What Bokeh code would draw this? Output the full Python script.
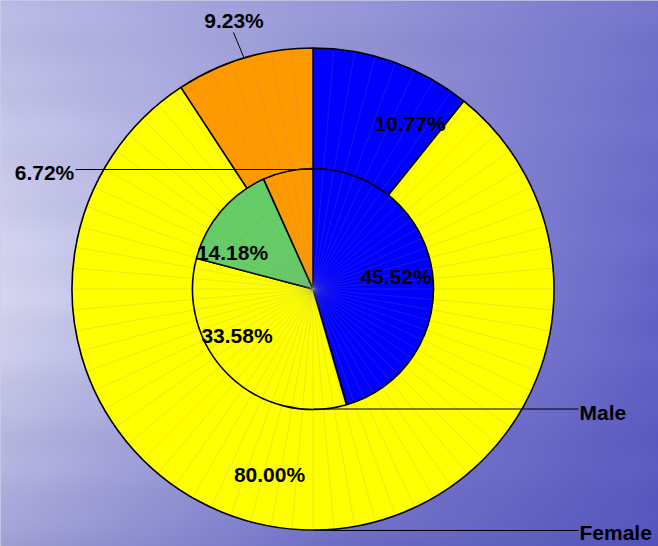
import numpy as np
from bokeh.plotting import figure
from bokeh.models import Range1d, ColumnDataSource
from bokeh.core.properties import value
from bokeh.embed import file_html
from bokeh.resources import INLINE

# ---------------- data ----------------
outer_values = [10.77, 80.00, 9.23]
outer_colors = ["#0000FF", "#FFFF00", "#FF9900"]
inner_values = [45.52, 33.58, 14.18, 6.72]
inner_colors = ["#0000FF", "#FFFF00", "#66CC66", "#FF9900"]
series_names = ["Male", "Female"]          # Male -> inner pie, Female -> outer ring

# ---------------- layout (reference pixel positions) ----------------
CX, CY = 312.5, 288.5       # pie centre in page pixels
R_OUT, R_IN = 241, 120.5
W, H = 658, 546             # figure size

def px(X, Y):
    return X - CX, CY - Y

outer_label_pos = [(409.5, 122.5), (269, 473.5), (233.5, 20)]
inner_label_pos = [(395.5, 276), (236.5, 335), (232, 252), (44, 172)]

p = figure(width=W, height=H, output_backend="svg", toolbar_location=None,
           x_range=Range1d(-CX, W - CX), y_range=Range1d(CY - H, CY),
           min_border=0)
p.axis.visible = False
p.grid.visible = False
p.outline_line_color = None
p.background_fill_color = "#9c9cd8"
p.border_fill_color = "#9c9cd8"

# ---------------- background (sky gradient) ----------------
X = np.arange(W) + 0.5
Y = np.arange(H) + 0.5
u = X / 658.0
v = Y / 546.0
cols_u = [0.0, 0.5, 1.0]
rows_v = [0.0, 0.55, 1.0]
grid = np.array([
    [[184, 184, 228], [150, 150, 214], [116, 116, 204]],
    [[214, 214, 240], [156, 156, 218], [100, 100, 200]],
    [[162, 162, 214], [112, 112, 200], [84, 84, 188]],
], dtype=float)
rowsamp = np.zeros((3, W, 3))
for r in range(3):
    for c in range(3):
        rowsamp[r, :, c] = np.interp(u, cols_u, grid[r, :, c])
rgb = np.zeros((H, W, 3))
for c in range(3):
    for i in range(W):
        rgb[:, i, c] = np.interp(v, rows_v, rowsamp[:, i, c])
streak = (2.0 * np.sin(Y / 9.0) + 1.5 * np.sin(Y / 19.0 + 1.3))[:, None] * \
         (0.6 + 0.4 * np.sin(X / 53.0 + 0.7))[None, :]
rgb += streak[:, :, None]
rgb = np.clip(rgb, 0, 255).astype(np.uint8)
img = np.empty((H, W), dtype=np.uint32)
view = img.view(dtype=np.uint8).reshape((H, W, 4))
view[..., 0] = rgb[..., 0]
view[..., 1] = rgb[..., 1]
view[..., 2] = rgb[..., 2]
view[..., 3] = 255
img = np.flipud(img)
p.image_rgba(image=[img], x=-CX, y=CY - H, dw=W, dh=H)

# ---------------- pie helpers ----------------
def angles(vals):
    frac = np.array(vals) / np.sum(vals)
    cum = np.concatenate([[0], np.cumsum(frac)])
    start = np.pi / 2 - 2 * np.pi * cum[:-1]
    end = np.pi / 2 - 2 * np.pi * cum[1:]
    return start, end

def seams(r0, r1, step_deg=5):
    a = np.deg2rad(np.arange(0, 360, step_deg))
    return dict(x0=r0 * np.cos(a), y0=r0 * np.sin(a), x1=r1 * np.cos(a), y1=r1 * np.sin(a))

# outer ring
os_, oe_ = angles(outer_values)
p.wedge(x=0, y=0, radius=R_OUT, start_angle=os_, end_angle=oe_, direction="clock",
        fill_color=outer_colors, line_color="black", line_width=1.6)
p.segment(source=ColumnDataSource(seams(R_IN, R_OUT - 1.5)), x0="x0", y0="y0", x1="x1", y1="y1",
          line_color="#888888", line_alpha=0.3, line_width=0.6)

# inner pie
is_, ie_ = angles(inner_values)
p.wedge(x=0, y=0, radius=R_IN, start_angle=is_, end_angle=ie_, direction="clock",
        fill_color=inner_colors, line_color="black", line_width=1.6)
p.segment(source=ColumnDataSource(seams(0, R_IN - 1.5)), x0="x0", y0="y0", x1="x1", y1="y1",
          line_color="#888888", line_alpha=0.3, line_width=0.6)

# ---------------- leader lines ----------------
leaders = [((233, 32), (243.6, 57.6)),     # 9.23%
           ((75, 169), (313, 169)),        # 6.72%
           ((313, 408.5), (578, 408.5)),   # Male
           ((313, 530), (578, 530))]       # Female
lx0, ly0, lx1, ly1 = [], [], [], []
for (a, b) in leaders:
    x0, y0 = px(*a); x1, y1 = px(*b)
    lx0.append(x0); ly0.append(y0); lx1.append(x1); ly1.append(y1)
p.segment(x0=lx0, y0=ly0, x1=lx1, y1=ly1, line_color="black", line_width=1)

# ---------------- labels ----------------
labels = [f"{v:.2f}%" for v in outer_values] + [f"{v:.2f}%" for v in inner_values]
pos = outer_label_pos + inner_label_pos
tx = [px(*q)[0] for q in pos]
ty = [px(*q)[1] for q in pos]
p.text(x=tx, y=ty, text=labels, text_font=value("Liberation Sans"), text_font_style="bold",
       text_font_size="21px", text_color="black", text_align="center", text_baseline="middle")

name_pos = [(579, 411.5), (579, 532)]
p.text(x=[px(*q)[0] for q in name_pos], y=[px(*q)[1] for q in name_pos], text=series_names,
       text_font=value("Liberation Sans"), text_font_style="bold",
       text_font_size="21px", text_color="black", text_align="left", text_baseline="middle")

open("out.html", "w").write(file_html(p, INLINE))
